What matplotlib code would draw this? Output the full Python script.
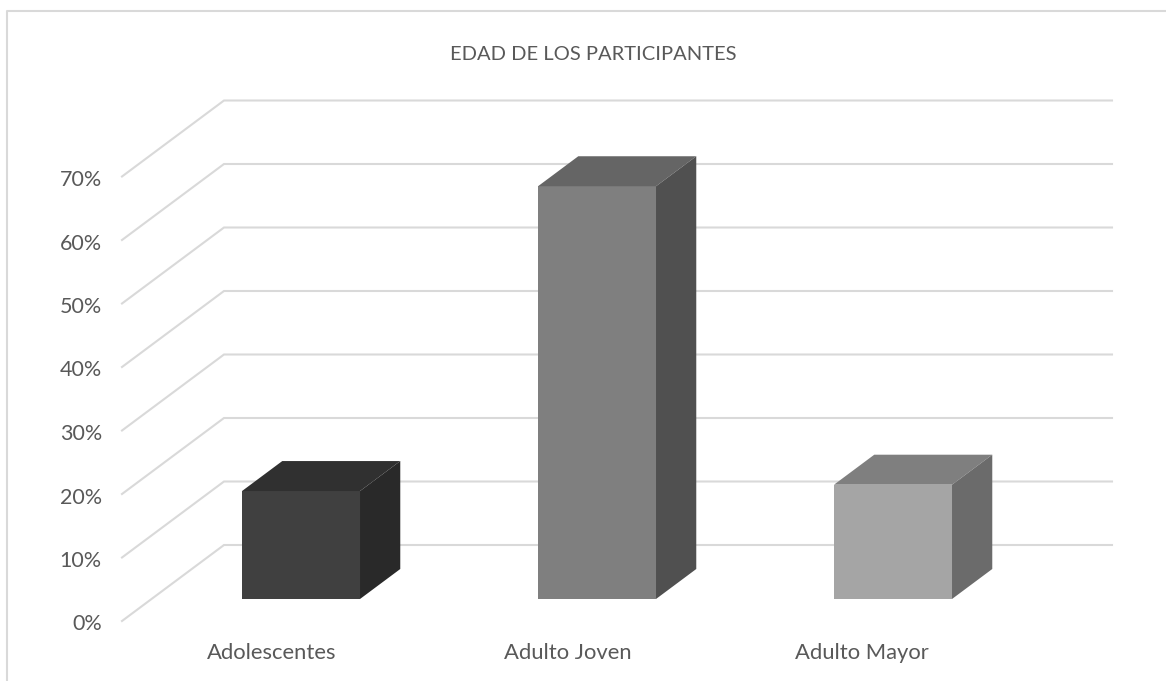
import matplotlib
matplotlib.use('Agg')
import matplotlib.pyplot as plt
from matplotlib.lines import Line2D
from matplotlib.patches import Polygon
from matplotlib.transforms import ScaledTranslation

plt.rcParams['font.family'] = ['Lato', 'DejaVu Sans']

categories = ['Adolescentes', 'Adulto Joven', 'Adulto Mayor']
valores = [17, 65, 18]
ticks = [0, 10, 20, 30, 40, 50, 60, 70]
frente = ['#404040', '#7f7f7f', '#a5a5a5']
arriba = ['#303030', '#656565', '#7f7f7f']
lado = ['#292929', '#505050', '#6b6b6b']

W, H = 1166, 681
GRID = '#d9d9d9'
TXT = '#595959'

# fake 3d: how far the back wall is shifted from the front plane
DX = 102 / 296.0
DY = 76 / 6.35
D0 = 22 / 76.0   # front face of the bars
D1 = 52 / 76.0   # back face of the bars
ANCHO = 118 / 296.0

fig = plt.figure(figsize=(W / 100, H / 100), dpi=100)
ax = fig.add_axes([122 / W, 1 - 621 / H, 888 / W, 444.5 / H])
ax.set_xlim(0, 3)
ax.set_ylim(0, 70)
for s in ax.spines.values():
    s.set_visible(False)

# walls
for t in ticks:
    ax.plot([0, DX, 3 + DX], [t, t + DY, t + DY], color=GRID, lw=1.5,
            clip_on=False, zorder=1, solid_joinstyle='miter')

# bars
for i, v in enumerate(valores):
    x0 = i + 0.5 - ANCHO / 2 + D0 * DX + 0.005
    x1 = x0 + ANCHO
    y0 = D0 * DY
    y1 = y0 + v
    ex = (D1 - D0) * DX
    ey = (D1 - D0) * DY
    ax.bar(x0, v, width=ANCHO, bottom=y0, align='edge', color=frente[i],
           clip_on=False, zorder=3)
    ax.add_patch(Polygon([(x0, y1), (x1, y1), (x1 + ex, y1 + ey), (x0 + ex, y1 + ey)],
                         closed=True, fc=arriba[i], ec='none', clip_on=False, zorder=3))
    ax.add_patch(Polygon([(x1, y0), (x1 + ex, y0 + ey), (x1 + ex, y1 + ey), (x1, y1)],
                         closed=True, fc=lado[i], ec='none', clip_on=False, zorder=3))

ax.set_yticks(ticks)
ax.set_yticklabels([str(t) + '%' for t in ticks])
ax.set_xticks([0.5, 1.5, 2.5])
ax.set_xticklabels(categories)
ax.tick_params(axis='y', length=0, pad=14.5, labelsize=15.5, labelcolor=TXT)
ax.tick_params(axis='x', length=0, pad=16, labelsize=15.8, labelcolor=TXT)

# labels sit a little lower than the tick position
bajar = ScaledTranslation(0, -1.5 / 100, fig.dpi_scale_trans)
for lab in ax.get_yticklabels():
    lab.set_transform(lab.get_transform() + bajar)
mover = ScaledTranslation(1.5 / 100, 0, fig.dpi_scale_trans)
for lab in ax.get_xticklabels()[:2]:
    lab.set_transform(lab.get_transform() + mover)

fig.text(593 / W, 1 - 54 / H, 'EDAD DE LOS PARTICIPANTES', ha='center', va='center',
         fontsize=14.5, color=TXT)

# chart frame, cropped at right and bottom
fig.add_artist(Line2D([7 / W, 7 / W, 1], [0, 1 - 11 / H, 1 - 11 / H], color=GRID, lw=1.5))

fig.savefig('out.png', dpi=100)
